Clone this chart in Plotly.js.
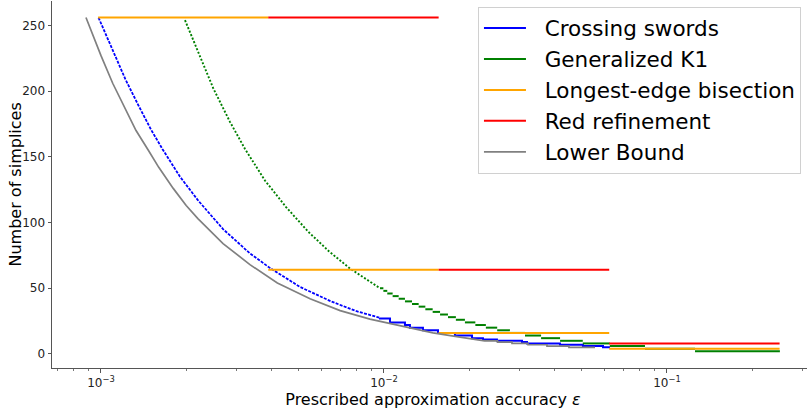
<!DOCTYPE html>
<html>
<head>
<meta charset="utf-8">
<script src="https://cdn.plot.ly/plotly-3.0.1.min.js"></script>
<style>
html,body{margin:0;padding:0;overflow:hidden;background:#fff;}
#chart{width:814px;height:409px;}
</style>
</head>
<body>
<div id="chart"></div>
<script>
// ---- data ----
// Crossing swords: fine-stepped upper part (eps, n) then visible steps
const blueTopEps = [0.00098, 0.0011, 0.00122, 0.00135, 0.0015, 0.001648, 0.0019, 0.0022, 0.0027, 0.00336, 0.00395, 0.00505, 0.0065, 0.008, 0.00968];
const blueTopN   = [256, 231, 209, 190, 171, 156, 135, 117, 95, 76.5, 65.5, 51, 40, 32.5, 27.5];
const blueStepN   = [27, 24, 22, 20, 18, 16, 14, 12, 11, 10, 9, 8, 7, 6, 5];
const blueStepEps = [0.00968, 0.0105, 0.01186, 0.01235, 0.01373, 0.01552, 0.01781, 0.02046, 0.02237, 0.02507, 0.03074, 0.03201, 0.04186, 0.05047, 0.05941];
const blueEnd = 0.06288;

// Generalized K1: dotted upper part and dashed even levels
const greenTopEps = [0.001981, 0.002239, 0.002495, 0.00285, 0.003228, 0.003797, 0.0045, 0.0054, 0.0064, 0.007586, 0.0086, 0.00968];
const greenTopN   = [254, 226, 202, 177, 156, 132, 112, 93, 78, 65, 57, 50];
const greenStepN   = [50, 48, 46, 44, 42, 40, 38, 36, 34, 32, 30, 28, 26, 24, 22, 20, 18, 16, 14, 12, 10, 8, 6, 4, 2];
const greenStepEps = [0.00968, 0.00995, 0.01027, 0.01073, 0.01127, 0.01186, 0.01256, 0.01326, 0.0140, 0.01486, 0.01578, 0.01683, 0.01795, 0.01932, 0.02103, 0.02291, 0.02512, 0.02786, 0.0315, 0.0359, 0.0419, 0.0504, 0.0628, 0.0836, 0.1256];
const greenEnd = 0.2506;

// Longest-edge bisection
const orangeN    = [256, 64, 16, 4];
const orangeFrom = [0.000977, 0.0039, 0.0156, 0.0625];
const orangeTo   = [0.0039, 0.0156, 0.0625, 0.25];

// Red refinement
const redN    = [256, 64, 8];
const redFrom = [0.0039, 0.0156, 0.0625];
const redTo   = [0.0156, 0.0625, 0.25];

// Lower bound
const grayTopEps = [0.000885, 0.00094, 0.001, 0.0011, 0.0012, 0.00133, 0.00147, 0.0016, 0.0018, 0.002, 0.0022, 0.0027, 0.00336, 0.0042, 0.00548, 0.007, 0.00892, 0.01235, 0.0149, 0.01856, 0.02267];
const grayTopN   = [256, 241, 227, 206, 189, 170, 155, 142, 126, 113, 103, 84, 68, 54, 42, 33, 26.5, 19.5, 16, 12.8, 10];
const grayStepN   = [10, 9, 8, 7, 6, 5];
const grayStepEps = [0.02267, 0.02518, 0.02834, 0.03228, 0.03767, 0.04504];
const grayEnd = 0.05566;

const seriesNames = ['Crossing swords', 'Generalized K1', 'Longest-edge bisection', 'Red refinement', 'Lower Bound'];
const xTickVals = [0.001, 0.01, 0.1];
const xTickText = ['10<sup>−3</sup>', '10<sup>−2</sup>', '10<sup>−1</sup>'];
const yTickVals = [0, 50, 100, 150, 200, 250];

// ---- helpers ----
function stairs(levels, starts, end) {
  const x = [], y = [];
  for (let i = 0; i < levels.length; i++) {
    const e = i + 1 < starts.length ? starts[i + 1] : end;
    x.push(starts[i], e); y.push(levels[i], levels[i]);
  }
  return {x, y};
}
function pieces(levels, from, to) {
  const x = [], y = [];
  for (let i = 0; i < levels.length; i++) {
    x.push(from[i], to[i], null); y.push(levels[i], levels[i], null);
  }
  return {x, y};
}
function dashes(levels, starts, end) {
  const x = [], y = [];
  for (let i = 0; i < levels.length; i++) {
    const e = i + 1 < starts.length ? starts[i + 1] : end;
    x.push(starts[i], e, null); y.push(levels[i], levels[i], null);
  }
  return {x, y};
}
const pad = s => '\u00a0\u00a0' + s;

const LW = 2;
const bs = stairs(blueStepN, blueStepEps, blueEnd);
const gd = dashes(greenStepN, greenStepEps, greenEnd);
const op = pieces(orangeN, orangeFrom, orangeTo);
const rp = pieces(redN, redFrom, redTo);
const gs = stairs(grayStepN, grayStepEps, grayEnd);

const traces = [
  {x: blueTopEps, y: blueTopN, mode: 'lines', showlegend: false,
   line: {color: '#0000ff', width: 1.8, dash: '3px,1.3px'}},
  {x: [blueTopEps[blueTopEps.length - 1]].concat(bs.x), y: [blueTopN[blueTopN.length - 1]].concat(bs.y), mode: 'lines', name: pad(seriesNames[0]),
   line: {color: '#0000ff', width: LW}, legendrank: 1},
  {x: greenTopEps, y: greenTopN, mode: 'lines', showlegend: false,
   line: {color: '#008000', width: 1.9, dash: '2px,1.8px'}},
  {x: gd.x, y: gd.y, mode: 'lines', name: pad(seriesNames[1]), connectgaps: false,
   line: {color: '#008000', width: LW}, legendrank: 2},
  {x: op.x, y: op.y, mode: 'lines', name: pad(seriesNames[2]), connectgaps: false,
   line: {color: '#ffa500', width: LW}, legendrank: 3},
  {x: rp.x, y: rp.y, mode: 'lines', name: pad(seriesNames[3]), connectgaps: false,
   line: {color: '#ff0000', width: LW}, legendrank: 4},
  {x: grayTopEps.concat(gs.x), y: grayTopN.concat(gs.y), mode: 'lines', name: pad(seriesNames[4]),
   line: {color: '#808080', width: 1.7}, legendrank: 5}
];

const minorVals = [];
[0.0001, 0.001, 0.01, 0.1].forEach(d => { for (let k = 2; k <= 9; k++) minorVals.push(d * k); });

const axColor = '#555555';
const layout = {
  width: 814, height: 409,
  margin: {l: 52, r: 0, t: 1, b: 41},
  paper_bgcolor: '#ffffff', plot_bgcolor: '#ffffff',
  font: {family: 'DejaVu Sans, sans-serif', color: '#000000', size: 12},
  showlegend: true,
  hovermode: false,
  xaxis: {
    type: 'log', range: [-3.1731, -0.4805],
    showline: true, linecolor: axColor, linewidth: 1,
    ticks: 'outside', ticklen: 3.5, tickcolor: axColor, tickwidth: 1,
    tickmode: 'array', tickvals: xTickVals, ticktext: xTickText,
    showgrid: false, zeroline: false,
    tickfont: {size: 12, color: '#222'},
    minor: {ticks: 'outside', ticklen: 2, tickcolor: axColor, tickwidth: 0.8, tickmode: 'array', tickvals: minorVals, showgrid: false},
    title: {text: 'Prescribed approximation accuracy <i>ε</i>', font: {size: 16, color: '#000'}, standoff: 3}
  },
  yaxis: {
    range: [-10.7, 268.6],
    showline: true, linecolor: axColor, linewidth: 1,
    ticks: 'outside', ticklen: 3.5, tickcolor: axColor, tickwidth: 1,
    tickmode: 'array', tickvals: yTickVals,
    showgrid: false, zeroline: false,
    tickfont: {size: 12, color: '#222'}
  },
  annotations: [{
    text: 'Number of simplices', textangle: -90, showarrow: false,
    xref: 'paper', yref: 'paper', x: (15 - 52) / 762, y: 0.5,
    xanchor: 'center', yanchor: 'middle', font: {size: 16, color: '#000'}
  }],
  legend: {
    x: 0.559, y: 0.985, xanchor: 'left', yanchor: 'top',
    bgcolor: 'rgba(255,255,255,0.8)', bordercolor: '#d0d0d0', borderwidth: 1,
    font: {size: 21.5, family: 'DejaVu Sans, sans-serif', color: '#000'},
    itemwidth: 42, tracegroupgap: 0
  }
};

Plotly.newPlot('chart', traces, layout, {displayModeBar: false, staticPlot: true});
</script>
</body>
</html>
